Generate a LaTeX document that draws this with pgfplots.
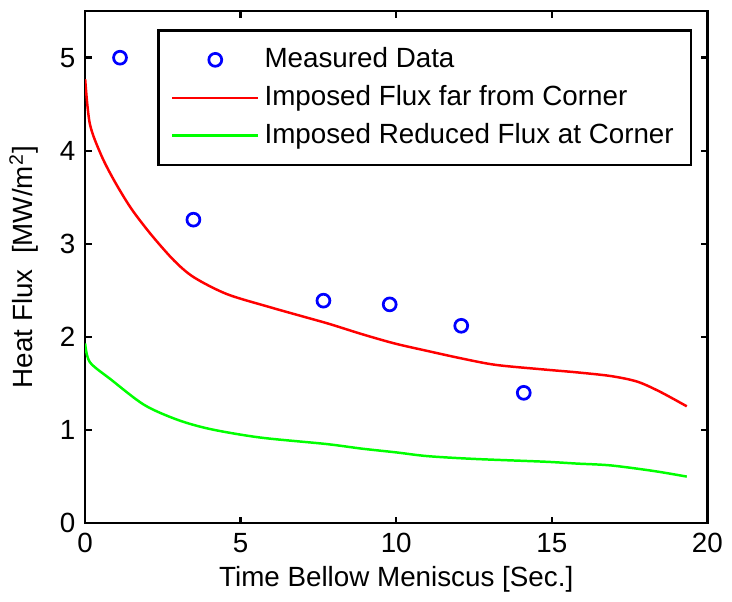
\documentclass[border=0pt]{standalone}
\usepackage{fontspec}
\setmainfont{Liberation Sans}
\usepackage{pgfplots}
\pgfplotsset{compat=1.18}
\begin{document}
\fontsize{11.2}{13.4}\selectfont
\begin{tikzpicture}
\begin{axis}[
  scale only axis,
  width=250.8pt, height=206.4pt,
  xmin=0, xmax=20, ymin=0, ymax=5.5,
  xtick={0,5,10,15,20}, ytick={0,1,2,3,4,5},
  tick align=inside,
  major tick length=2.6pt,
  axis line style={line width=1pt},
  every tick/.style={line width=1pt, black},
  /pgf/number format/assume math mode=true,
  ticklabel style={font=\fontsize{11.2}{13.4}\selectfont},
  xlabel={Time Bellow Meniscus [Sec.]},
  ylabel={Heat Flux\ \ [MW/m\textsuperscript{2}]},
  label style={font=\fontsize{11.2}{13.4}\selectfont},
  xlabel style={yshift=2pt},
  ylabel style={yshift=1pt},
  legend style={at={(0.976,0.965)}, anchor=north east, draw=black, line width=1pt,
    font=\fontsize{11.2}{13.4}\selectfont, inner xsep=5pt, inner ysep=5pt,
    row sep=1.5pt, cells={anchor=west}},
  legend image code/.code={%
    \draw[mark repeat=2,mark phase=2,#1] plot coordinates {(0cm,0cm) (0.61cm,0cm) (1.22cm,0cm)};},
]
\addplot[only marks, mark=o, mark size=2.6pt, draw=blue, line width=1.1pt] coordinates {
 (1.12,5.0) (3.48,3.26) (7.66,2.39) (9.79,2.35) (12.09,2.12) (14.1,1.40)
};
\addlegendentry{Measured Data}
\addplot[red, line width=1pt, smooth, tension=0.5] coordinates {
 (0,4.77) (0.15,4.29) (0.52,3.95) (0.95,3.67) (1.48,3.38) (2.12,3.10) (2.86,2.82) (3.5,2.64) (4.56,2.46)
 (5.94,2.32) (7.0,2.22) (7.85,2.14) (8.9,2.03) (9.95,1.93) (11.0,1.85) (12.09,1.77) (13.2,1.70) (14.77,1.65)
 (15.8,1.62) (16.9,1.58) (17.75,1.52) (18.49,1.41) (19.34,1.255)
};
\addlegendentry{Imposed Flux far from Corner}
\addplot[green, line width=1pt, smooth, tension=0.5] coordinates {
 (0,1.93) (0.15,1.73) (0.84,1.54) (1.9,1.27) (2.97,1.11) (4.03,1.01) (5.62,0.92) (7.75,0.85)
 (8.9,0.80) (10.0,0.76) (11.0,0.72) (12.5,0.69) (14.77,0.66) (15.8,0.64) (16.9,0.62)
 (18.28,0.56) (19.34,0.50)
};
\addlegendentry{Imposed Reduced Flux at Corner}
\end{axis}
\path (current axis.north) ++(0,4.5pt);
\end{tikzpicture}
\end{document}
